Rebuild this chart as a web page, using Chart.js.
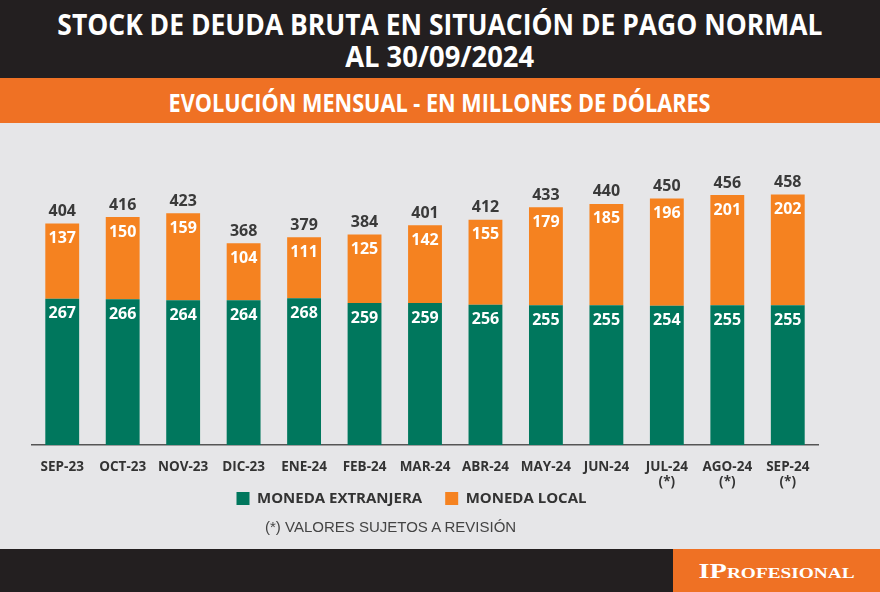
<!DOCTYPE html>
<html>
<head>
<meta charset="utf-8">
<script src="https://cdn.jsdelivr.net/npm/chart.js@4.4.1/dist/chart.umd.min.js"></script>
<style>
  body { margin: 0; width: 880px; height: 592px; overflow: hidden; background: #e6e6e8; position: relative; font-family: "Open Sans", sans-serif; }
  #head { position: absolute; left: 0; top: 0; width: 880px; height: 78px; background: #231f20; color: #fff; }
  #band { position: absolute; left: 0; top: 78px; width: 880px; height: 45px; background: #ef7124; color: #fff; }
  .line { position: absolute; left: 0; width: 880px; text-align: center; white-space: nowrap; font-weight: 700; }
  .line span { display: inline-block; transform-origin: center; }
  #wrap { position: absolute; left: 0; top: 123px; width: 880px; height: 426px; }
  #note { position: absolute; left: 265px; top: 518px; font-family: "Liberation Sans", Arial, sans-serif; font-size: 15px; line-height: 18px; color: #444; }
  #foot { position: absolute; left: 0; top: 549px; width: 880px; height: 43px; background: #231f20; }
  #brand { position: absolute; left: 673px; top: 0; width: 207px; height: 43px; background: #ef7124; color: #fff;
           font-family: "Liberation Serif", serif; font-weight: 700; font-variant: small-caps; font-size: 22px;
           line-height: 43px; text-align: center; white-space: nowrap; }
  #brand span { display: inline-block; transform-origin: center; }
</style>
</head>
<body>
<div id="head">
  <div class="line" style="top:10px;font-size:29.4px;line-height:29.4px"><span data-w="765">STOCK DE DEUDA BRUTA EN SITUACIÓN DE PAGO NORMAL</span></div>
  <div class="line" style="top:42px;font-size:29.4px;line-height:29.4px"><span data-w="189">AL 30/09/2024</span></div>
</div>
<div id="band">
  <div class="line" style="top:13px;font-size:24.5px;line-height:24.5px"><span data-w="542">EVOLUCIÓN MENSUAL - EN MILLONES DE DÓLARES</span></div>
</div>
<div id="wrap"><canvas id="deuda-chart"></canvas></div>
<div id="note">(*) VALORES SUJETOS A REVISIÓN</div>
<div id="foot"><div id="brand"><span data-w="156">IProfesional</span></div></div>

<script>
const months = ['SEP-23', 'OCT-23', 'NOV-23', 'DIC-23', 'ENE-24', 'FEB-24', 'MAR-24',
                'ABR-24', 'MAY-24', 'JUN-24', 'JUL-24', 'AGO-24', 'SEP-24'];
const provisional = [false, false, false, false, false, false, false, false, false, false, true, true, true];
const monedaExtranjera = [267, 266, 264, 264, 268, 259, 259, 256, 255, 255, 254, 255, 255];
const monedaLocal = [137, 150, 159, 104, 111, 125, 142, 155, 179, 185, 196, 201, 202];
const totals = [404, 416, 423, 368, 379, 384, 401, 412, 433, 440, 450, 456, 458];

// squeeze the heading text to the width it has in the original
document.querySelectorAll('span[data-w]').forEach(function (el) {
    const w = el.getBoundingClientRect().width;
    el.style.transform = 'scaleX(' + (Number(el.dataset.w) / w) + ')';
});

const labels = months.map((m, i) => provisional[i] ? [m, '(*)'] : m);

// numbers inside the segments and the totals above each bar
const valueLabels = {
    id: 'valueLabels',
    afterDatasetsDraw(chart) {
        const ctx = chart.ctx;
        ctx.save();
        ctx.textAlign = 'center';
        ctx.textBaseline = 'middle';
        ctx.font = '700 16px "Open Sans"';
        ctx.fillStyle = '#ffffff';
        chart.data.datasets.forEach((ds, i) => {
            chart.getDatasetMeta(i).data.forEach((bar, j) => {
                ctx.fillText(ds.data[j], bar.x, bar.y + 15);
            });
        });
        const topMeta = chart.getDatasetMeta(chart.data.datasets.length - 1);
        ctx.fillStyle = '#3a3a3a';
        topMeta.data.forEach((bar, j) => {
            ctx.fillText(totals[j], bar.x, bar.y - 12);
        });
        ctx.restore();
    }
};

// pull the legend up a little, closer to the month labels
const legendNudge = {
    id: 'legendNudge',
    afterLayout(chart) {
        chart.legend.top -= 21;
        chart.legend.bottom -= 21;
    }
};

let canvasElement = document.getElementById('deuda-chart').getContext('2d');

const deudaChart = new Chart(canvasElement, {
    type: 'bar',
    data: {
        labels: labels,
        datasets: [{
            label: 'MONEDA EXTRANJERA',
            data: monedaExtranjera,
            backgroundColor: '#00775d',
            borderWidth: 0
        }, {
            label: 'MONEDA LOCAL',
            data: monedaLocal,
            backgroundColor: '#f58220',
            borderWidth: 0
        }]
    },
    options: {
        responsive: true,
        maintainAspectRatio: false,
        animation: false,
        layout: { padding: { left: 5, right: 62, top: 48, bottom: 20 } },
        datasets: { bar: { categoryPercentage: 1, barPercentage: 0.56 } },
        scales: {
            x: {
                stacked: true,
                grid: { display: false },
                border: { color: '#555555', width: 1.5 },
                ticks: { color: '#333333', padding: 7, font: { family: 'Open Sans', size: 13.5, weight: '700', lineHeight: 1.1 } },
                afterFit: s => { s.height = 44; }
            },
            y: {
                stacked: true,
                min: 0,
                max: 500,
                grid: { display: false },
                border: { display: false },
                ticks: { display: false },
                afterFit: s => { s.width = 27; }
            }
        },
        plugins: {
            legend: {
                position: 'bottom',
                maxHeight: 40,
                labels: {
                    boxWidth: 13,
                    boxHeight: 13,
                    padding: 23,
                    color: '#333333',
                    font: { family: 'Open Sans', size: 15, weight: '700' }
                }
            },
            tooltip: { enabled: false }
        }
    },
    plugins: [valueLabels, legendNudge]
});
</script>
</body>
</html>
